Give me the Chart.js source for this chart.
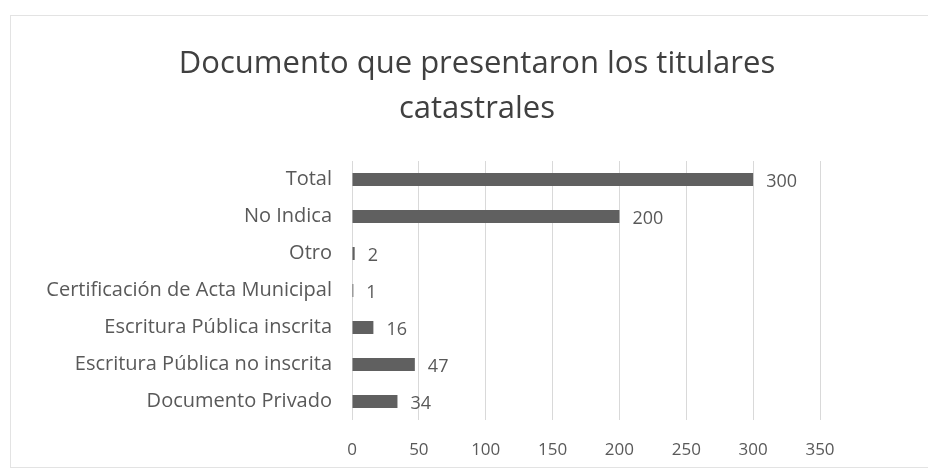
<!DOCTYPE html>
<html>
<head>
<meta charset="utf-8">
<script src="https://cdn.jsdelivr.net/npm/chart.js@4/dist/chart.umd.min.js"></script>
<style>
  html, body { margin: 0; padding: 0; background: #fff; }
  #wrap { width: 928px; height: 474px; position: relative; }
</style>
</head>
<body>
<div id="wrap"><canvas id="c"></canvas></div>
<script>
// datos del grafico
const categorias = ['Total', 'No Indica', 'Otro', 'Certificación de Acta Municipal',
  'Escritura Pública inscrita', 'Escritura Pública no inscrita', 'Documento Privado'];
const valores = [300, 200, 2, 1, 16, 47, 34];
const titulo = ['Documento que presentaron los titulares', 'catastrales'];
const ejeMax = 350;
const ejePaso = 50;

// etiquetas de valor al final de cada barra (no hay plugin datalabels)
const etiquetasValor = {
  id: 'etiquetasValor',
  afterDatasetsDraw(chart) {
    const ctx = chart.ctx;
    const meta = chart.getDatasetMeta(0);
    ctx.save();
    ctx.font = '18px "Open Sans"';
    ctx.fillStyle = '#595959';
    ctx.textAlign = 'left';
    ctx.textBaseline = 'middle';
    meta.data.forEach(function(bar, i) {
      ctx.fillText(String(valores[i]), bar.x + 13, bar.y + 2);
    });
    ctx.restore();
  }
};

// titulo centrado sobre todo el marco (el de Chart.js se centra en el area sin padding)
const tituloCentrado = {
  id: 'tituloCentrado',
  afterDraw(chart) {
    const ctx = chart.ctx;
    ctx.save();
    ctx.font = '31px "Open Sans"';
    ctx.fillStyle = '#404040';
    ctx.textAlign = 'center';
    ctx.textBaseline = 'middle';
    titulo.forEach(function(linea, i) {
      ctx.fillText(linea, 477, 64 + i * 45);
    });
    ctx.restore();
  }
};

// marco suave alrededor del grafico
const marco = {
  id: 'marco',
  beforeDraw(chart) {
    const ctx = chart.ctx;
    ctx.save();
    ctx.strokeStyle = '#e3e3e3';
    ctx.lineWidth = 1;
    ctx.strokeRect(10.5, 15.5, 940, 452);
    ctx.restore();
  }
};

new Chart(document.getElementById('c'), {
  type: 'bar',
  data: {
    labels: categorias,
    datasets: [{
      data: valores,
      backgroundColor: '#606060',
      borderWidth: 0,
      barPercentage: 0.7,
      categoryPercentage: 0.5
    }]
  },
  options: {
    indexAxis: 'y',
    responsive: true,
    maintainAspectRatio: false,
    animation: false,
    layout: { padding: { left: 0, right: 108, top: 161, bottom: 9 } },
    plugins: {
      legend: { display: false },
      tooltip: { enabled: false },
      title: { display: false }
    },
    scales: {
      x: {
        min: 0,
        max: ejeMax,
        afterFit(scale) { scale.height = 45; },
        ticks: {
          stepSize: ejePaso,
          color: '#595959',
          font: { family: '"Open Sans"', size: 17 },
          padding: 20
        },
        grid: { color: '#d9d9d9', drawTicks: false },
        border: { display: false }
      },
      y: {
        afterFit(scale) { scale.width = 352; },
        ticks: {
          color: '#595959',
          font: { family: '"Open Sans"', size: 20 },
          padding: 20
        },
        grid: { display: false, drawTicks: false },
        border: { display: false }
      }
    }
  },
  plugins: [etiquetasValor, tituloCentrado, marco]
});
</script>
</body>
</html>
